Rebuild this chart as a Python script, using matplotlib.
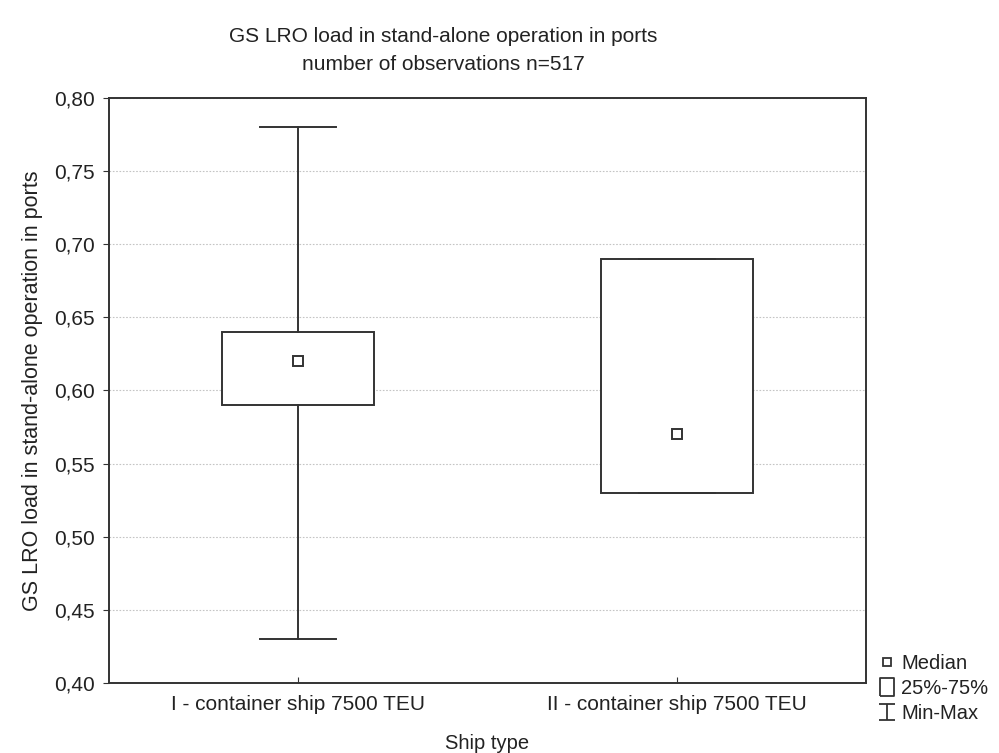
import matplotlib
matplotlib.use('Agg')
import matplotlib.pyplot as plt
from matplotlib.lines import Line2D
from matplotlib.path import Path
from matplotlib.ticker import FuncFormatter, MultipleLocator

plt.rcParams['font.family'] = ['Liberation Sans', 'DejaVu Sans']

# data
ship_types = ['I - container ship 7500 TEU', 'II - container ship 7500 TEU']
medians = [0.62, 0.57]
q1 = [0.59, 0.53]
q3 = [0.64, 0.69]
mins = [0.43, 0.53]
maxs = [0.78, 0.69]

edge = '#333333'
txt = '#222222'

stats = []
for i in range(len(ship_types)):
    stats.append({'med': medians[i], 'q1': q1[i], 'q3': q3[i],
                  'whislo': mins[i], 'whishi': maxs[i], 'label': ship_types[i]})

fig = plt.figure(figsize=(9.99, 7.53), dpi=100)
ax = fig.add_axes([0.109, 0.093, 0.758, 0.777])

positions = [1, 2]
ax.bxp(stats, positions=positions, widths=0.4, capwidths=0.2, showfliers=False,
       patch_artist=True,
       boxprops=dict(facecolor='white', edgecolor=edge, linewidth=1.4),
       whiskerprops=dict(color=edge, linewidth=1.4),
       capprops=dict(color=edge, linewidth=1.4),
       medianprops=dict(linestyle='none'), zorder=3)
ax.plot(positions, medians, 's', ms=7, mfc='white', mec=edge, mew=1.4, zorder=4)

ax.set_xlim(0.5, 2.5)
ax.set_ylim(0.40, 0.80)
ax.yaxis.set_major_locator(MultipleLocator(0.05))
ax.yaxis.set_major_formatter(FuncFormatter(lambda v, p: f'{v:.2f}'.replace('.', ',')))
ax.set_xticks(positions)
ax.set_xticklabels(ship_types, fontsize=15, color=txt)
ax.tick_params(axis='y', labelsize=15, labelcolor=txt, direction='out', length=4, color=edge, pad=6)
ax.tick_params(axis='x', direction='in', length=4, color=edge, pad=9)
ax.yaxis.grid(True, linestyle=(0, (1.5, 1.5)), color='#c4c4c4', linewidth=0.8)
ax.set_axisbelow(True)
for s in ax.spines.values():
    s.set_color(edge)
    s.set_linewidth(1.4)

ax.set_ylabel('GS LRO load in stand-alone operation in ports', fontsize=15.5, color=txt, labelpad=8)
ax.set_xlabel('Ship type', fontsize=14.5, color=txt, labelpad=14)

fig.text(0.444, 0.952, 'GS LRO load in stand-alone operation in ports', ha='center', va='center', fontsize=15, color=txt)
fig.text(0.444, 0.915, 'number of observations n=517', ha='center', va='center', fontsize=15, color=txt)

# legend
box_icon = Path([(-0.8, -1), (0.8, -1), (0.8, 1), (-0.8, 1), (-0.8, -1)])
minmax_icon = Path([(-1, 1), (1, 1), (0, 1), (0, -1), (-1, -1), (1, -1)],
                   [Path.MOVETO, Path.LINETO, Path.MOVETO, Path.LINETO, Path.MOVETO, Path.LINETO])
handles = [
    Line2D([], [], marker='s', ls='none', ms=6, mfc='white', mec=edge, mew=1.3),
    Line2D([], [], marker=box_icon, ls='none', ms=13, mfc='none', mec=edge, mew=1.3),
    Line2D([], [], marker=minmax_icon, ls='none', ms=12, mfc='none', mec=edge, mew=1.3),
]
fig.legend(handles, ['Median', '25%-75%', 'Min-Max'], loc='upper left',
           bbox_to_anchor=(0.879, 0.131), frameon=False, fontsize=14.5,
           labelcolor=txt, handlelength=0.9, handletextpad=0.25, labelspacing=0.3,
           borderaxespad=0, borderpad=0)

fig.savefig('out.png', dpi=100, facecolor='white')
